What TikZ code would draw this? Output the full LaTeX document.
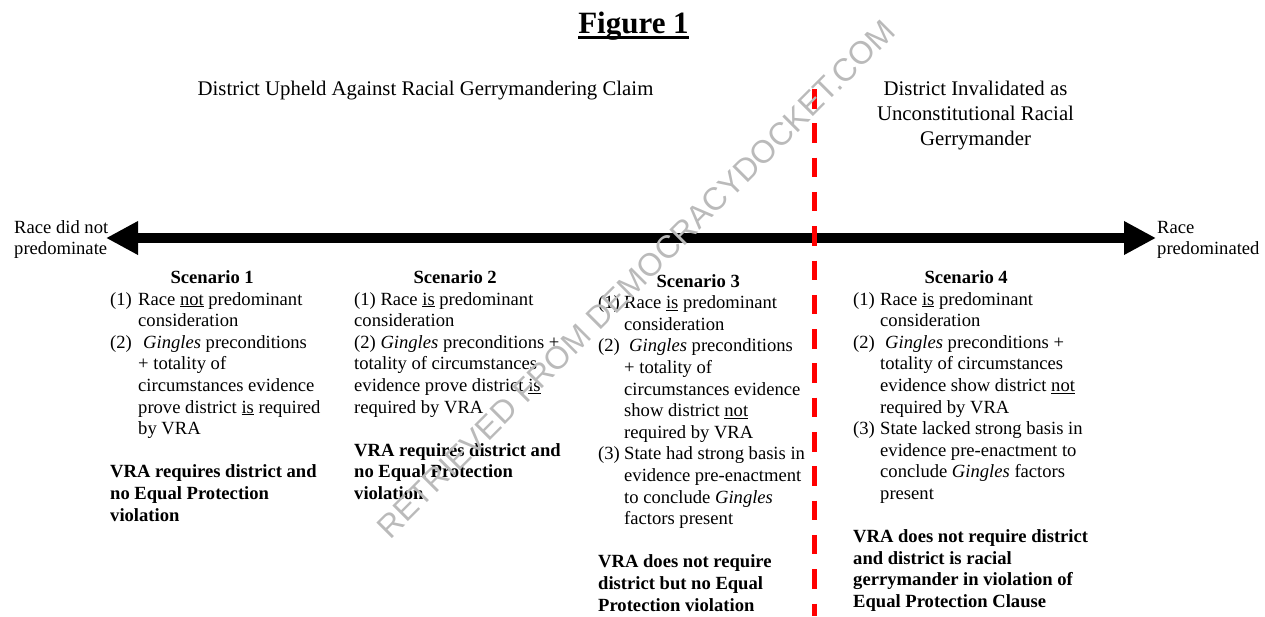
\documentclass[tikz,border=0pt]{standalone}
\usepackage{fontspec}
\setmainfont{Liberation Serif}
\newfontfamily\wmfont{Liberation Sans}
\usetikzlibrary{arrows.meta}
\definecolor{vred}{RGB}{255,0,0}
\newcommand\ctr[2]{\hbox to #1{\hss#2\hss}}
\newcommand\nitem[3]{\hbox{\hbox to #1{#2\hss}#3}}
\newcommand\cnt[2]{\hbox{\kern#1\relax #2}}
\newcommand\blankline{\hbox{}}
\newcommand\pl[1]{\hbox{#1}}
\tikzset{
  bodytxt/.style={font=\fontsize{18.6}{21.6}\selectfont, inner sep=0pt},
  hdrtxt/.style={font=\fontsize{20.8}{25}\selectfont, inner sep=0pt},
  axisarrow/.style={line width=10.5pt, {Triangle[length=32pt,width=31.5pt]}-{Triangle[length=32pt,width=31.5pt]}},
  divider/.style={draw=vred, line width=4.7pt, dash pattern=on 19.5pt off 14.8pt},
  wmark/.style={rotate=45, text=black!27, font=\wmfont\fontsize{32}{38}\selectfont, inner sep=0pt}
}
\begin{document}
\begin{tikzpicture}[x=1pt,y=-1pt]
\useasboundingbox (0,0) rectangle (1265,616);
% title
\node[inner sep=0pt, anchor=base, font=\fontsize{31}{36}\selectfont\bfseries] (title) at (633.5,33) {Figure 1};
\draw[line width=2.8pt] ([yshift=-4.5pt]title.base west) -- ([yshift=-4.5pt]title.base east);
% headers
\node[hdrtxt, anchor=base] (hl) at (425.5,95) {District Upheld Against Racial Gerrymandering Claim};
\node[hdrtxt, anchor=base] (hr) at (975.5,95) {\vtop{%
  \ctr{220pt}{District Invalidated as}
  \ctr{220pt}{Unconstitutional Racial}
  \ctr{220pt}{Gerrymander}}};
% axis
\coordinate (L) at (106,238);
\coordinate (R) at (1156,238);
\draw[axisarrow] (L) -- (R);
\node[bodytxt, anchor=base west] (ll) at (14,233) {\vtop{\pl{Race did not}\pl{predominate}}};
\node[bodytxt, anchor=base west] (rl) at (1157,233) {\vtop{\pl{Race}\pl{predominated}}};
% scenario 1
\node[bodytxt, anchor=base west] (s1) at (110,283.5) {\vtop{%
  \ctr{204pt}{\bfseries Scenario 1}
  \nitem{28pt}{(1)}{Race \underline{not} predominant}
  \cnt{28pt}{consideration}
  \nitem{28pt}{(2)}{\kern5pt\textit{Gingles} preconditions}
  \cnt{28pt}{+ totality of}
  \cnt{28pt}{circumstances evidence}
  \cnt{28pt}{prove district \underline{is} required}
  \cnt{28pt}{by VRA}
  \blankline
  \pl{\bfseries VRA requires district and}
  \pl{\bfseries no Equal Protection}
  \pl{\bfseries violation}}};
% scenario 2
\node[bodytxt, anchor=base west] (s2) at (354,283.5) {\vtop{%
  \ctr{202pt}{\bfseries Scenario 2}
  \pl{(1) Race \underline{is} predominant}
  \pl{consideration}
  \pl{(2) \textit{Gingles} preconditions +}
  \pl{totality of circumstances}
  \pl{evidence prove district \underline{is}}
  \pl{required by VRA}
  \blankline
  \pl{\bfseries VRA requires district and}
  \pl{\bfseries no Equal Protection}
  \pl{\bfseries violation}}};
% scenario 3
\node[bodytxt, anchor=base west] (s3) at (598,287) {\vtop{%
  \ctr{200pt}{\bfseries Scenario 3}
  \nitem{26pt}{(1)}{Race \underline{is} predominant}
  \cnt{26pt}{consideration}
  \nitem{26pt}{(2)}{\kern5pt\textit{Gingles} preconditions}
  \cnt{26pt}{+ totality of}
  \cnt{26pt}{circumstances evidence}
  \cnt{26pt}{show district \underline{not}}
  \cnt{26pt}{required by VRA}
  \nitem{26pt}{(3)}{State had strong basis in}
  \cnt{26pt}{evidence pre-enactment}
  \cnt{26pt}{to conclude \textit{Gingles}}
  \cnt{26pt}{factors present}
  \blankline
  \pl{\bfseries VRA does not require}
  \pl{\bfseries district but no Equal}
  \pl{\bfseries Protection violation}}};
% scenario 4
\node[bodytxt, anchor=base west] (s4) at (853,283.5) {\vtop{%
  \ctr{226pt}{\bfseries Scenario 4}
  \nitem{27pt}{(1)}{Race \underline{is} predominant}
  \cnt{27pt}{consideration}
  \nitem{27pt}{(2)}{\kern5pt\textit{Gingles} preconditions +}
  \cnt{27pt}{totality of circumstances}
  \cnt{27pt}{evidence show district \underline{not}}
  \cnt{27pt}{required by VRA}
  \nitem{27pt}{(3)}{State lacked strong basis in}
  \cnt{27pt}{evidence pre-enactment to}
  \cnt{27pt}{conclude \textit{Gingles} factors}
  \cnt{27pt}{present}
  \blankline
  \pl{\bfseries VRA does not require district}
  \pl{\bfseries and district is racial}
  \pl{\bfseries gerrymander in violation of}
  \pl{\bfseries Equal Protection Clause}}};
% divider
\coordinate (T) at (814.5,89);
\coordinate (B) at (814.5,616);
\draw[divider] (T) -- (B);
% watermark
\node[wmark] (wm) at (636,279) {RETRIEVED FROM DEMOCRACYDOCKET.COM};
\end{tikzpicture}
\end{document}
